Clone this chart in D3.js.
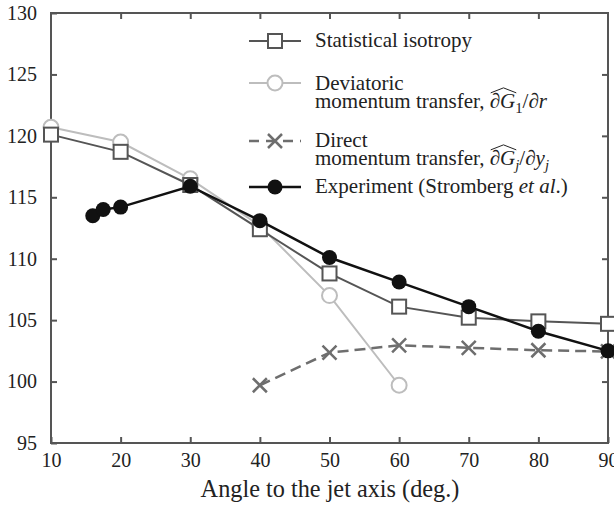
<!DOCTYPE html>
<html>
<head>
<meta charset="utf-8">
<script src="https://cdn.jsdelivr.net/npm/d3@7"></script>
<style>
  html, body { margin: 0; padding: 0; background: #fff; }
  svg { display: block; }
  text { font-family: "Liberation Serif", "Times New Roman", Times, serif; fill: #222; }
</style>
</head>
<body>
<svg id="chart" width="614" height="509"></svg>
<script>
// values
const angles = [10, 20, 30, 40, 50, 60, 70, 80, 90];
const isotropy = [120.1, 118.7, 116.0, 112.4, 108.8, 106.1, 105.2, 104.9, 104.7];

const deviatoricAngles = [10, 20, 30, 40, 50, 60];
const deviatoric = [120.7, 119.5, 116.5, 112.7, 107.0, 99.7];

const directAngles = [40, 50, 60, 70, 80, 90];
const direct = [99.7, 102.35, 102.95, 102.75, 102.55, 102.45];

const expAngles = [16, 17.5, 20, 30, 40, 50, 60, 70, 80, 90];
const experiment = [113.5, 114.0, 114.2, 115.9, 113.1, 110.1, 108.1, 106.1, 104.1, 102.5];

const xTicks = [10, 20, 30, 40, 50, 60, 70, 80, 90];
const yTicks = [95, 100, 105, 110, 115, 120, 125, 130];
const xTitle = "Angle to the jet axis (deg.)";

const plotLeft = 51, plotRight = 608, plotTop = 13, plotBottom = 443;
const axisColor = "#555";
const serif = '"Liberation Serif", "Times New Roman", Times, serif';

const svg = d3.select("#chart");
const x = d3.scaleLinear().domain([10, 90]).range([plotLeft, plotRight]);
const y = d3.scaleLinear().domain([95, 130]).range([plotBottom, plotTop]);

// font size that makes a string as wide as it is in the picture
const fitSize = (str, width, italic) => {
  const t = svg.append("text").style("font-size", "20px").style("white-space", "pre")
    .style("font-style", italic ? "italic" : "normal").text(str);
  const w = t.node().getComputedTextLength();
  t.remove();
  return 20 * width / w;
};
const tickSize = Math.min(22, fitSize("130", 30));
const legendSize = fitSize("Statistical isotropy", 157);
const titleSize = fitSize(xTitle, 259);
const subSize = legendSize * 0.7;

// axes, ticks pointing inward
const styleAxis = g => {
  g.attr("font-family", serif);
  g.select(".domain").remove();
  g.selectAll(".tick line").attr("stroke", axisColor).attr("stroke-width", 2);
  g.selectAll(".tick text").style("font-size", tickSize + "px").attr("fill", "#222");
};

svg.append("g")
  .attr("transform", `translate(0,${plotBottom})`)
  .call(d3.axisBottom(x).tickValues(xTicks).tickSize(-6).tickSizeOuter(0).tickPadding(10).tickFormat(d3.format("d")))
  .call(styleAxis);

svg.append("g")
  .attr("transform", `translate(${plotLeft},0)`)
  .call(d3.axisLeft(y).tickValues(yTicks).tickSize(-6).tickSizeOuter(0).tickPadding(14).tickFormat(d3.format("d")))
  .call(styleAxis);

svg.append("g")
  .attr("transform", `translate(0,${plotTop})`)
  .call(d3.axisTop(x).tickValues(xTicks.slice(1, -1)).tickSize(-6).tickFormat(""))
  .call(styleAxis);

svg.append("g")
  .attr("transform", `translate(${plotRight},0)`)
  .call(d3.axisRight(y).tickValues(yTicks.slice(1, -1)).tickSize(-6).tickFormat(""))
  .call(styleAxis);

svg.append("rect")
  .attr("x", plotLeft).attr("y", plotTop)
  .attr("width", plotRight - plotLeft).attr("height", plotBottom - plotTop)
  .attr("fill", "none").attr("stroke", axisColor).attr("stroke-width", 2);

svg.append("text")
  .attr("x", 330).attr("y", 497)
  .attr("text-anchor", "middle")
  .style("font-size", titleSize + "px")
  .text(xTitle);

// markers
const drawMarker = (g, type, cx, cy, color) => {
  if (type === "square") {
    g.append("rect").attr("x", cx - 7).attr("y", cy - 7).attr("width", 14).attr("height", 14)
      .attr("fill", "#fff").attr("stroke", color).attr("stroke-width", 2);
  } else if (type === "circle") {
    g.append("circle").attr("cx", cx).attr("cy", cy).attr("r", 7.5)
      .attr("fill", "#fff").attr("stroke", color).attr("stroke-width", 2);
  } else if (type === "cross") {
    g.append("path")
      .attr("d", `M${cx - 7},${cy - 7}L${cx + 7},${cy + 7}M${cx - 7},${cy + 7}L${cx + 7},${cy - 7}`)
      .attr("stroke", color).attr("stroke-width", 2.5).attr("fill", "none");
  } else {
    g.append("circle").attr("cx", cx).attr("cy", cy).attr("r", 7.5).attr("fill", color);
  }
};

const series = [
  { xs: deviatoricAngles, ys: deviatoric, color: "#bdbdbd", width: 2, dash: null, marker: "circle" },
  { xs: directAngles, ys: direct, color: "#6e6e6e", width: 2.5, dash: "11,6", marker: "cross" },
  { xs: angles, ys: isotropy, color: "#555", width: 2, dash: null, marker: "square" },
  { xs: expAngles, ys: experiment, color: "#111", width: 2.5, dash: null, marker: "dot" }
];

const line = d3.line().x(d => x(d[0])).y(d => y(d[1]));

series.forEach(s => {
  const pts = s.xs.map((a, i) => [a, s.ys[i]]);
  const g = svg.append("g");
  g.append("path")
    .attr("d", line(pts))
    .attr("fill", "none")
    .attr("stroke", s.color)
    .attr("stroke-width", s.width)
    .attr("stroke-dasharray", s.dash);
  pts.forEach(p => drawMarker(g, s.marker, x(p[0]), y(p[1]), s.color));
});

// legend
const legX0 = 249, legX1 = 301, textX = 315;
const legend = svg.append("g");

const sample = (sy, s) => {
  legend.append("line")
    .attr("x1", legX0).attr("x2", legX1).attr("y1", sy).attr("y2", sy)
    .attr("stroke", s.color).attr("stroke-width", s.width)
    .attr("stroke-dasharray", s.dash ? "10,7" : null);
  drawMarker(legend, s.marker, (legX0 + legX1) / 2, sy, s.color);
};

// a line of text made from pieces, each measured to place the next
const richLine = (baseline, pieces) => {
  let cx = textX;
  let hatStart = null;
  pieces.forEach(p => {
    const t = legend.append("text")
      .attr("x", cx)
      .attr("y", baseline + (p.sub ? 5 : 0))
      .style("font-size", (p.sub ? subSize : legendSize) + "px")
      .style("font-style", p.italic ? "italic" : "normal")
      .style("white-space", "pre")
      .text(p.t);
    if (p.hatStart) hatStart = cx;
    cx += t.node().getComputedTextLength();
    if (p.hatEnd && hatStart !== null) {
      const x0 = hatStart + 1, x1 = cx + 1;
      const top = baseline - legendSize * 0.72;
      legend.append("path")
        .attr("d", `M${x0},${top}L${(x0 + x1) / 2},${top - 5}L${x1},${top}`)
        .attr("fill", "none").attr("stroke", "#222").attr("stroke-width", 1);
      hatStart = null;
    }
  });
};

sample(41, series[2]);
richLine(47, [{ t: "Statistical isotropy" }]);

sample(83, series[0]);
richLine(90, [{ t: "Deviatoric" }]);
richLine(108, [
  { t: "momentum transfer, " },
  { t: "\u2202", hatStart: true },
  { t: "G", italic: true, hatEnd: true },
  { t: "1", sub: true },
  { t: "/\u2202" },
  { t: "r", italic: true }
]);

sample(141, series[1]);
richLine(147, [{ t: "Direct" }]);
richLine(165, [
  { t: "momentum transfer, " },
  { t: "\u2202", hatStart: true },
  { t: "G", italic: true, hatEnd: true },
  { t: "j", sub: true, italic: true },
  { t: "/\u2202" },
  { t: "y", italic: true },
  { t: "j", sub: true, italic: true }
]);

sample(187, series[3]);
richLine(193, [
  { t: "Experiment (Stromberg " },
  { t: "et al", italic: true },
  { t: ".)" }
]);
</script>
</body>
</html>
